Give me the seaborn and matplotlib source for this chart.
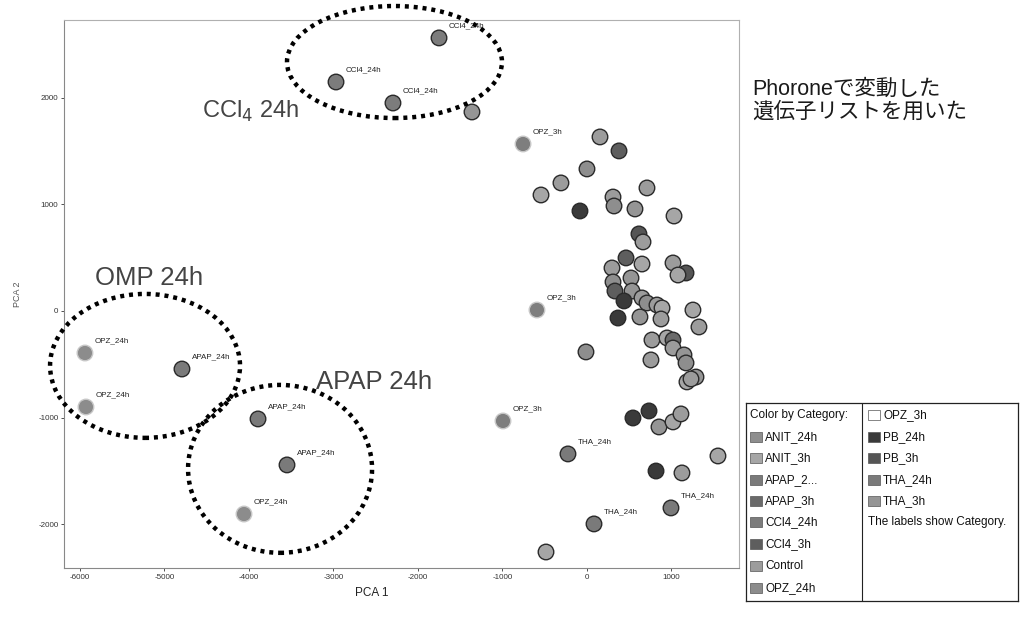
import matplotlib
matplotlib.use("Agg")
import matplotlib.pyplot as plt
from matplotlib.patches import Ellipse, Rectangle
import pandas as pd
import seaborn as sns

# ---- data -------------------------------------------------------------
categories = ["ANIT_24h", "ANIT_3h", "APAP_24h", "APAP_3h", "CCl4_24h", "CCl4_3h",
              "Control", "OPZ_24h", "OPZ_3h", "PB_24h", "PB_3h", "THA_24h", "THA_3h"]

pca1 = [-1751, -2970, -2296, -1361, -757, -5941, -4793, -5929, -3893, -3550, -4059,
        -592, -994, -225, 83, 994, -485,
        154, 379, 0, -308, -544, -83, 308, 320, 568, 710, 1030, 615, 663, 462, 651,
        296, 521, 308, 1018, 1172, 1077, 331, 533, 438, 651, 710, 828, 888, 367, 627,
        876, 1254, 1325, -12, 769, 947, 1018, 1018, 1148, 1172, 757, 1183, 1290, 1231,
        544, 734, 852, 1018, 1112, 1550, 817, 1124]
pca2 = [2559, 2146, 1949, 1865, 1565, -394, -544, -900, -1012, -1443, -1903,
        9, -1031, -1340, -1996, -1846, -2259,
        1631, 1500, 1331, 1200, 1087, 937, 1068, 984, 956, 1153, 890, 722, 647, 497, 440,
        403, 309, 272, 450, 356, 337, 187, 187, 94, 122, 75, 56, 28, -66, -56,
        -75, 9, -150, -384, -272, -253, -272, -347, -412, -487, -459, -665, -619, -637,
        -1003, -937, -1087, -1040, -965, -1359, -1500, -1518]
category = ["CCl4_24h", "CCl4_24h", "CCl4_24h", "THA_3h", "OPZ_3h", "OPZ_24h", "APAP_24h",
            "OPZ_24h", "APAP_24h", "APAP_24h", "OPZ_24h", "OPZ_3h", "OPZ_3h", "THA_24h",
            "THA_24h", "THA_24h", "ANIT_3h",
            "Control", "CCl4_3h", "ANIT_24h", "Control", "ANIT_3h", "PB_24h", "Control",
            "ANIT_24h", "THA_3h", "Control", "ANIT_3h", "PB_3h", "Control", "CCl4_3h",
            "ANIT_3h", "Control", "THA_3h", "ANIT_24h", "Control", "PB_3h", "ANIT_3h",
            "CCl4_3h", "THA_3h", "PB_24h", "Control", "ANIT_24h", "Control", "ANIT_3h",
            "PB_24h", "THA_3h", "Control", "ANIT_3h", "Control", "ANIT_24h", "Control",
            "ANIT_3h", "APAP_3h", "Control", "THA_3h", "ANIT_24h", "Control", "ANIT_3h",
            "THA_3h", "Control", "PB_24h", "PB_24h", "THA_3h", "ANIT_3h", "Control",
            "ANIT_3h", "PB_24h", "Control"]
# points that carry a category label next to them
labeled = [True] * 3 + [False] + [True] * 12 + [False] + [False] * 52

groups = ["CCl$_4$ 24h", "OMP 24h", "APAP 24h"]
note_lines = ["Phoroneで変動した", "遺伝子リストを用いた"]

# ---- styling ----------------------------------------------------------
palette = {
    "ANIT_24h": "#8e8e8e", "ANIT_3h": "#a6a6a6", "APAP_24h": "#7a7a7a",
    "APAP_3h": "#6a6a6a", "CCl4_24h": "#7c7c7c", "CCl4_3h": "#5e5e5e",
    "Control": "#9c9c9c", "OPZ_24h": "#8c8c8c", "OPZ_3h": "#7e7e7e",
    "PB_24h": "#3a3a3a", "PB_3h": "#555555", "THA_24h": "#7a7a7a", "THA_3h": "#959595",
}
legend_names = {"APAP_24h": "APAP_2..."}

sns.set_style("white")
plt.rcParams["font.family"] = ["Liberation Sans", "Noto Sans CJK JP", "DejaVu Sans"]
plt.rcParams["axes.unicode_minus"] = False

df = pd.DataFrame({"PCA 1": pca1, "PCA 2": pca2, "Category": category, "labeled": labeled})
edges = ["#c8c8c8" if c.startswith("OPZ") else "#2a2a2a" for c in df["Category"]]

W, H = 1023, 621
fig = plt.figure(figsize=(W / 100, H / 100), dpi=100)
ax = fig.add_axes([64 / W, 1 - 568 / H, (739 - 64) / W, (568 - 20) / H])

sns.scatterplot(data=df, x="PCA 1", y="PCA 2", hue="Category", palette=palette,
                hue_order=categories, s=125, edgecolor=edges, linewidth=1.0,
                legend=False, ax=ax, zorder=3)

for _, r in df[df["labeled"]].iterrows():
    ax.annotate(r["Category"], (r["PCA 1"], r["PCA 2"]),
                xytext=(7, 6), textcoords="offset points", fontsize=5.8,
                color="#222222", va="bottom", ha="left", zorder=4)

ax.set_xlim(-6189, 1799)
ax.set_ylim(-2409, 2727)
ax.set_xticks([-6000, -5000, -4000, -3000, -2000, -1000, 0, 1000])
ax.set_yticks([-2000, -1000, 0, 1000, 2000])
ax.tick_params(axis="both", labelsize=5.8, length=2, width=0.6, colors="#333333",
               direction="out", bottom=True, left=True, pad=2)
ax.set_xlabel("PCA 1", fontsize=8.5, color="#222222")
ax.xaxis.set_label_coords((372 - 64) / (739 - 64), -0.035)
ax.set_ylabel("PCA 2", fontsize=6.5, color="#555555")
ax.yaxis.set_label_coords(-0.062, 0.5)
for side, sp in ax.spines.items():
    sp.set_linewidth(0.8)
    sp.set_color("#b0b0b0" if side in ("top", "right") else "#888888")

# dotted group outlines
outlines = [((-2278, 2333), 2544, 1050), ((-5230, -515), 2248, 1349),
            ((-3632, -1480), 2177, 1574)]
for (cx, cy), w, h in outlines:
    ax.add_patch(Ellipse((cx, cy), w, h, fill=False, edgecolor="black", linewidth=3.2,
                         linestyle=(0, (0.9, 1.1)), clip_on=False, zorder=5))

# group titles
title_pos = [(202, 118), (95, 285), (316, 389)]
title_size = [17, 18.5, 18.5]
for txt, (px, py), fs in zip(groups, title_pos, title_size):
    fig.text(px / W, 1 - py / H, txt, fontsize=fs, color="#444444", va="baseline",
             ha="left")

# side note, one text per line
for line, base in zip(note_lines, [95, 118]):
    fig.text(752 / W, 1 - base / H, line, fontsize=15.5, color="#1a1a1a",
             va="baseline", ha="left",
             family=["Liberation Sans", "Noto Sans CJK JP", "DejaVu Sans"])

# category key panel
LX0, LY0, LX1, LY1 = 746, 403, 1018, 601
lax = fig.add_axes([LX0 / W, 1 - LY1 / H, (LX1 - LX0) / W, (LY1 - LY0) / H])
lax.set_xlim(0, LX1 - LX0)
lax.set_ylim(LY1 - LY0, 0)
lax.set_xticks([])
lax.set_yticks([])
for sp in lax.spines.values():
    sp.set_linewidth(0.9)
    sp.set_color("#222222")
lax.axvline(116, color="#222222", linewidth=0.8)
fs_key = 8.5
lax.text(4, 12, "Color by Category:", fontsize=fs_key, va="center", ha="left",
         color="#111111")
rows_left = [34, 55, 77, 98, 119, 141, 163, 185]
rows_right = [12, 34, 55, 77, 98]
slots = [(4, y) for y in rows_left] + [(122, y) for y in rows_right]
for cat, (sx, sy) in zip(categories, slots):
    face = "white" if cat == "OPZ_3h" else palette[cat]
    lax.add_patch(Rectangle((sx, sy - 5), 12, 10, facecolor=face, edgecolor="#555555",
                            linewidth=0.5))
    lax.text(sx + 15, sy, legend_names.get(cat, cat), fontsize=fs_key, va="center",
             ha="left", color="#111111")
lax.text(122, 119, "The labels show Category.", fontsize=fs_key, va="center", ha="left",
         color="#111111")

fig.savefig("out.png", dpi=100)
